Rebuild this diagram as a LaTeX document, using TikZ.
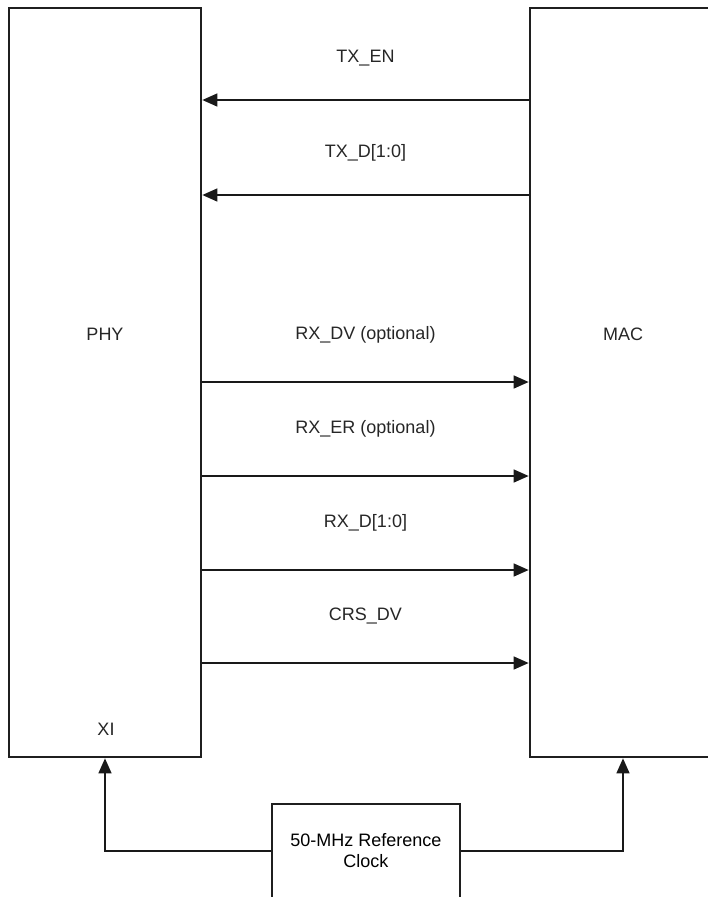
\documentclass[tikz,border=0pt]{standalone}
\usepackage{fontspec}
\setsansfont{Liberation Sans}
\usetikzlibrary{arrows.meta,positioning}

\begin{document}
\begin{tikzpicture}[
    x=1pt, y=-1pt,
    font=\sffamily\fontsize{18}{21}\selectfont,
    block/.style={draw=black!88, line width=2.7pt, fill=white, inner sep=0pt},
    sig/.style={-{Triangle[length=15pt, width=13pt]}, line width=1.4pt, black!90},
    lab/.style={text=black!85, inner sep=1pt}
  ]
  \clip (0,0) rectangle (708,897);
  \node[block, minimum width=192pt, minimum height=749pt] (phy) at (105,382.5) {};
  \node[block, minimum width=186pt, minimum height=749pt] (mac) at (623,382.5) {};
  \node[block, minimum width=188pt, minimum height=94pt, align=center] (clk) at (366,851)
    {50-MHz Reference\\Clock};
  \node[lab] (phyname) at (105,334) {PHY};
  \node[lab] (macname) at (623,334) {MAC};
  \node[lab] (xi) at (106,729) {XI};

  % MAC -> PHY
  \foreach \y/\s in {100/TX\_EN, 195/TX\_D[1:0]}
    \draw[sig] (mac.west |- 0,\y) -- node[lab, yshift=42pt] {\s} (phy.east |- 0,\y);
  % PHY -> MAC
  \foreach \y/\s in {382/RX\_DV (optional), 476/RX\_ER (optional), 570/RX\_D[1:0], 663/CRS\_DV}
    \draw[sig] (phy.east |- 0,\y) -- node[lab, yshift=47pt] {\s} (mac.west |- 0,\y);

  % reference clock
  \draw[sig] (clk.west) -| (phy.south);
  \draw[sig] (clk.east) -| (mac.south);
\end{tikzpicture}
\end{document}
